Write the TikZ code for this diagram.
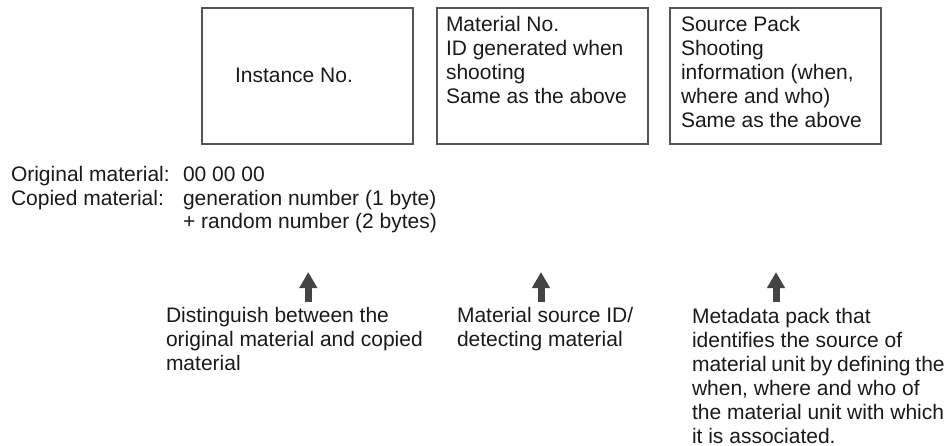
\documentclass[tikz,border=0pt]{standalone}
\usepackage{fontspec}
\setmainfont{Liberation Sans}
\usetikzlibrary{arrows.meta}
\definecolor{txt}{HTML}{1A1A1A}
\definecolor{boxline}{HTML}{555555}
\definecolor{arrowgray}{HTML}{444444}
\tikzset{
  lbl/.style={inner sep=0pt, outer sep=0pt, anchor=base west, align=left, text=txt, font=\fontsize{21}{24}\selectfont},
  framebox/.style={draw=boxline, line width=2pt, minimum width=211pt, minimum height=135.5pt, inner sep=0pt, outer sep=0pt, anchor=north west},
  uparrow/.style={draw=arrowgray, line width=7pt, -{Triangle[width=17pt,length=16pt]}},
}
\begin{document}
\begin{tikzpicture}[x=1pt,y=-1pt]
\useasboundingbox (0,0) rectangle (947,446);
% boxes
\node[framebox] (b1) at (202,8.5) {};
\node[framebox] (b2) at (436.5,8.5) {};
\node[framebox] (b3) at (670,8.5) {};
% box texts (anchor = baseline of last line)
\node[lbl] (t1) at (235,83) {Instance No.};
\node[lbl] (t2) at (446,104) {Material No.\\ID generated when\\shooting\\Same as the above};
\node[lbl] (t3) at (681,128) {Source Pack\\Shooting\\information (when,\\where and who)\\Same as the above};
% middle texts
\node[lbl] (orig) at (11,182) {Original material:};
\node[lbl] (copied) at (11,205.5) {Copied material:};
\node[lbl] (zeros) at (183,182) {00 00 00};
\node[lbl] (gen) at (183,205.5) {generation number (1 byte)};
\node[lbl] (rand) at (183,229) {+ random number (2 bytes)};
% bottom texts
\node[lbl] (d1) at (166,370) {Distinguish between the\\original material and copied\\material};
\node[lbl] (d2) at (457,346) {Material source ID/\\detecting material};
\node[lbl] (d3) at (692,443) {Metadata pack that\\identifies the source of\\material\hspace{4.8pt}unit\hspace{4.8pt}by\hspace{4.8pt}defining\hspace{4.8pt}the\\when, where and who of\\the material unit with which\\it is associated.};
% arrows
\coordinate (a1s) at (308.3,302);
\coordinate (a1e) at (308.3,272);
\coordinate (a2s) at (541,302);
\coordinate (a2e) at (541,272);
\coordinate (a3s) at (776,302);
\coordinate (a3e) at (776,272);
\draw[uparrow] (a1s) -- (a1e);
\draw[uparrow] (a2s) -- (a2e);
\draw[uparrow] (a3s) -- (a3e);
\end{tikzpicture}
\end{document}
